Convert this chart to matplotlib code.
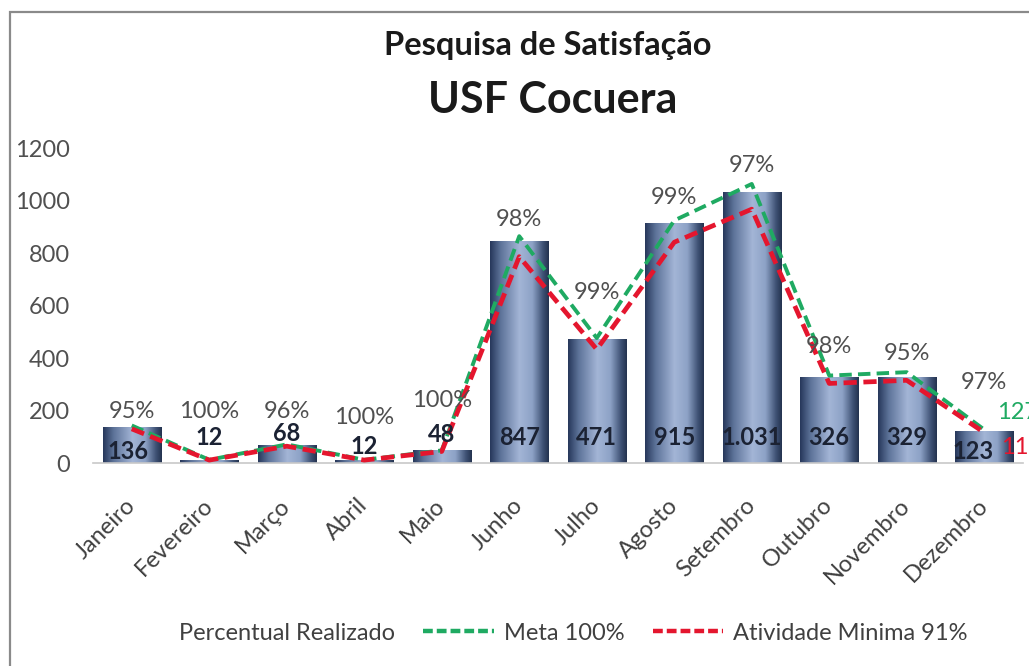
import matplotlib
matplotlib.use("Agg")
import matplotlib.pyplot as plt
import numpy as np
from matplotlib.colors import LinearSegmentedColormap
from matplotlib.lines import Line2D
from matplotlib.patches import Rectangle

# ---------------- data ----------------
meses = ["Janeiro", "Fevereiro", "Março", "Abril", "Maio", "Junho", "Julho",
         "Agosto", "Setembro", "Outubro", "Novembro", "Dezembro"]
realizado = [136, 12, 68, 12, 48, 847, 471, 915, 1031, 326, 329, 123]
percentual = ["95%", "100%", "96%", "100%", "100%", "98%", "99%", "99%",
              "97%", "98%", "95%", "97%"]
meta = [143, 12, 71, 12, 48, 864, 476, 924, 1063, 333, 346, 127]
minima = [130, 11, 64, 11, 44, 786, 433, 841, 967, 303, 315, 116]

# label layout (positions only)
pct_label_y = [195, 195, 195, 172, 240, 926, 648, 1013, 1135, 442, 419, 305]
cnt_label_y = [42, 99, 114, 61, 107, 99, 99, 99, 99, 99, 99, 42]
cnt_label_dx = [-0.05, 0, 0, 0, 0, 0, 0, 0, 0, 0, 0, -0.14]

plt.rcParams['font.family'] = ['Lato', 'DejaVu Sans']

W, H = 1029, 666
fig = plt.figure(figsize=(W / 100, H / 100), dpi=100)
fig.patch.set_facecolor("white")

# chart frame (partially cropped)
fig.patches.append(Rectangle((10 / W, -0.2), 2.0, 1 - 12 / H + 0.2,
                             transform=fig.transFigure, fill=False,
                             edgecolor="#8a8a8a", lw=1.6, zorder=0))

ax = fig.add_axes([93 / W, 1 - 463 / H, 930 / W, 315 / H])
x = np.arange(len(meses))

# gradient bars
cmap = LinearSegmentedColormap.from_list(
    "bar", [(0.0, "#26375a"), (0.18, "#5d7399"), (0.5, "#a3b5d6"),
            (0.72, "#8da2c6"), (0.9, "#3f5275"), (1.0, "#23324f")])
grad = np.linspace(0, 1, 256).reshape(1, -1)
bw = 0.75
bars = ax.bar(x, realizado, width=bw, color="none", edgecolor="none", zorder=2)
for b in bars:
    x0, y0 = b.get_x(), b.get_y()
    w, h = b.get_width(), b.get_height()
    im = ax.imshow(grad, cmap=cmap, aspect="auto", extent=(x0, x0 + w, y0, y0 + h),
                   zorder=2, interpolation="bilinear")
    im.set_clip_path(b)
ax.set_xlim(-0.5, len(meses) - 0.5)
ax.set_ylim(0, 1200)

green = "#1faa62"
red = "#e4162e"
ax.plot(x, meta, color=green, lw=2.8, linestyle=(0, (3.2, 1.6)), zorder=4,
        dash_capstyle="butt")
ax.plot(x, minima, color=red, lw=3.4, linestyle=(0, (2.8, 1.4)), zorder=5,
        dash_capstyle="butt")

# labels
FS = 17
for xi, v, ly, dx in zip(x, realizado, cnt_label_y, cnt_label_dx):
    s = f"{v:,}".replace(",", ".")
    ax.text(xi + dx, ly, s, ha="center", va="center", fontsize=FS, fontweight="bold",
            color="#1b2233", zorder=6)
for xi, p, ly in zip(x, percentual, pct_label_y):
    ax.text(xi, ly, p, ha="center", va="center", fontsize=FS, color="#505050", zorder=6)

ax.text(x[-1] + 0.17, 194, f"{meta[-1]}", ha="left", va="center", fontsize=FS,
        color=green, zorder=6, clip_on=False)
ax.text(x[-1] + 0.21, 60, f"{minima[-1]}", ha="left", va="center", fontsize=FS,
        color=red, zorder=6, clip_on=False)

# axes styling
for s in ["top", "right", "left"]:
    ax.spines[s].set_visible(False)
ax.spines["bottom"].set_color("#c8c8c8")
ax.spines["bottom"].set_linewidth(1.2)
ax.set_yticks(range(0, 1201, 200))
ax.tick_params(axis="y", length=0, pad=16.5, labelsize=FS, labelcolor="#505050")
ax.set_xticks(x)
ax.set_xticklabels(meses, rotation=45, ha="right", va="center",
                   rotation_mode="anchor", fontsize=FS, color="#404040")
ax.tick_params(axis="x", length=0, pad=28)

# titles
fig.text(548 / W, 1 - 45 / H, "Pesquisa de Satisfação", ha="center", va="center",
         fontsize=23.5, fontweight="bold", color="#1a1a1a")
fig.text(553 / W, 1 - 100 / H, "USF Cocuera", ha="center", va="center",
         fontsize=31, fontweight="bold", color="#1a1a1a")

# legend
handles = [Line2D([], [], color="none", lw=0),
           Line2D([], [], color=green, lw=3.2, linestyle=(0, (2.2, 0.9))),
           Line2D([], [], color=red, lw=3.2, linestyle=(0, (2.2, 0.9)))]
labels = ["Percentual Realizado", "Meta 100%", "Atividade Minima 91%"]
leg = fig.legend(handles, labels, loc="center", bbox_to_anchor=(533 / W, 1 - 633 / H),
                 ncol=3, frameon=False, fontsize=FS, handlelength=3.0,
                 columnspacing=1.2, handletextpad=0.4, labelcolor="#404040")

fig.savefig("out.png", dpi=100, facecolor="white")
